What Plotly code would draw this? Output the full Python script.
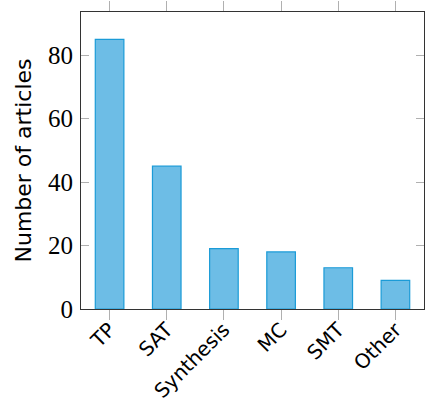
import plotly.graph_objects as go

categories = ["TP", "SAT", "Synthesis", "MC", "SMT", "Other"]
articles = [85, 45, 19, 18, 13, 9]
y_ticks = [0, 20, 40, 60, 80]

fig = go.Figure(
    go.Bar(
        x=categories,
        y=articles,
        width=0.5,
        marker=dict(color="#6dbde6", line=dict(color="#1b9bd7", width=1.2)),
    )
)

fig.update_layout(
    width=425,
    height=402,
    margin=dict(l=81, r=1, t=12, b=93),
    plot_bgcolor="white",
    paper_bgcolor="white",
    showlegend=False,
    font=dict(family="DejaVu Sans", color="black"),
)

fig.update_xaxes(
    range=[-0.5, 5.5],
    automargin=False,
    showline=True,
    linecolor="#333333",
    linewidth=1.2,
    mirror="ticks",
    ticks="outside",
    ticklen=10,
    tickcolor="#b0b0b0",
    tickwidth=1.2,
    tickangle=-45,
    tickfont=dict(family="DejaVu Sans", size=20),
    ticklabelstandoff=-10,
    showgrid=False,
)

fig.update_yaxes(
    range=[0, 93.6],
    automargin=False,
    tickvals=y_ticks,
    showline=True,
    linecolor="#333333",
    linewidth=1.2,
    mirror="ticks",
    ticks="inside",
    ticklen=8,
    tickcolor="#b0b0b0",
    tickwidth=1.2,
    tickfont=dict(family="Liberation Serif", size=25),
    ticklabelstandoff=2,
    showgrid=False,
    zeroline=False,
    title=dict(text="Number of articles", font=dict(family="DejaVu Sans", size=22), standoff=10),
)

# page body has an 8px default margin; drop it so the figure sits at the corner
fig.write_html(
    "out.html",
    config={"displayModeBar": False},
    post_script="document.body.style.margin='0';",
)
